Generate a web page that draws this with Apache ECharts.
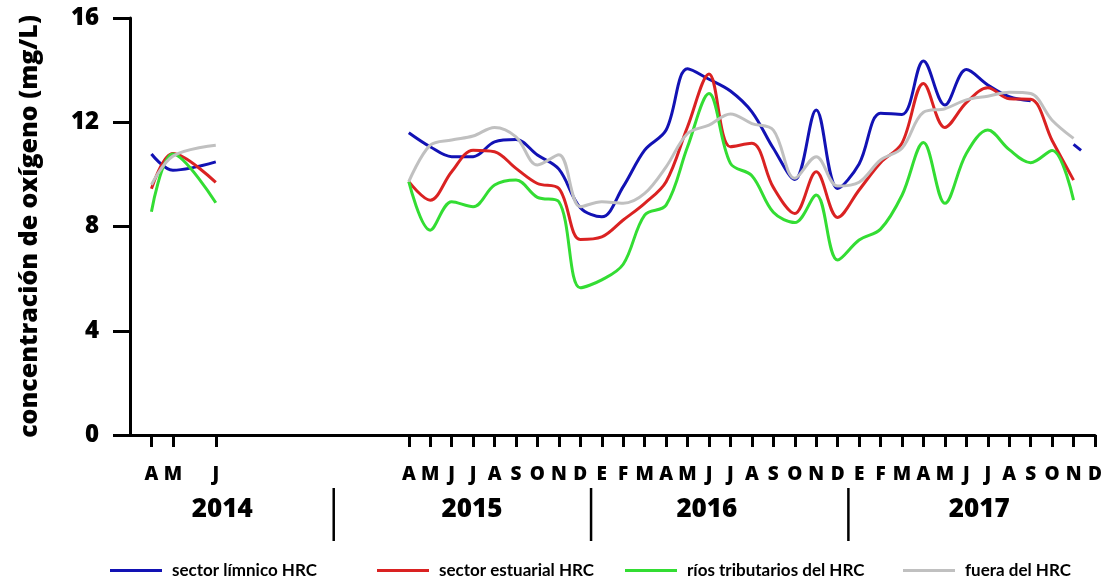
<!DOCTYPE html>
<html>
<head>
<meta charset="utf-8">
<script src="https://cdn.jsdelivr.net/npm/echarts@6/dist/echarts.min.js"></script>
<style>
  html, body { margin: 0; padding: 0; background: #fff; }
  #chart { width: 1108px; height: 585px; }
</style>
</head>
<body>
<div id="chart"></div>
<script>
// Month index: 0 = March 2014 ... 45 = December 2017
const monthLetters = ['', 'A', 'M', '', 'J', '', '', '', '', '', '', '', '',
  'A', 'M', 'J', 'J', 'A', 'S', 'O', 'N', 'D',
  'E', 'F', 'M', 'A', 'M', 'J', 'J', 'A', 'S', 'O', 'N', 'D',
  'E', 'F', 'M', 'A', 'M', 'J', 'J', 'A', 'S', 'O', 'N', 'D'];

const years = ['2014', '2015', '2016', '2017'];
const yearLabelAt = [4.3, 15.95, 26.9, 39.6];   // month-index position of each year label
const yearBreaks = [9.5, 21.5, 33.5];            // Dec/Jan boundaries

const seriesNames = ['sector límnico HRC', 'sector estuarial HRC', 'ríos tributarios del HRC', 'fuera del HRC'];

// 2014 campaign: April, May and July 2014
const months2014 = [1, 2, 4];
const limnico2014 = [10.78, 10.16, 10.48];
const estuarial2014 = [9.45, 10.8, 9.69];
const tributarios2014 = [8.57, 10.78, 8.91];
const fuera2014 = [9.6, 10.7, 11.12];

// Monthly campaign April 2015 (index 13) to December 2017 (index 45), null = no sample
const firstMonth1517 = 13;
const limnico1517 = [11.6, 11.06, 10.68, 10.68, 11.25, 11.34, 10.74, 10.2, 8.72,
  8.37, 9.53, 10.93, 11.7, 14.05, 13.65, 13.2, 12.4, 11.0, 9.8, 12.47, 9.46,
  10.4, 12.35, 12.3, 14.35, 12.66, 14.02, 13.43, 12.98, 12.82, null, 11.15, null];
const limnicoTail = [[44.35, 10.92]];

const estuarial1517 = [9.72, 9.01, 10.1, 10.93, 10.87, 10.23, 9.65, 9.46, 7.5,
  7.6, 8.25, 8.89, 9.72, 11.83, 13.85, 11.06, 11.19, 9.5, 8.5, 10.1, 8.35,
  9.4, 10.45, 11.2, 13.49, 11.8, 12.75, 13.32, 12.9, 12.88, 11.3, 9.78, null];

const tributarios1517 = [9.72, 7.86, 8.95, 8.76, 9.59, 9.78, 9.12, 8.95, 5.65,
  5.95, 6.55, 8.44, 8.82, 11.06, 13.1, 10.42, 9.95, 8.55, 8.15, 9.21, 6.71,
  7.48, 7.9, 9.2, 11.22, 8.89, 10.8, 11.7, 10.95, 10.45, 10.92, 9.01, null];

const fuera1517 = [9.72, 11.12, 11.32, 11.47, 11.8, 11.44, 10.36, 10.75, 8.76,
  8.95, 8.89, 9.27, 10.29, 11.57, 11.89, 12.32, 11.95, 11.7, 9.85, 10.68, 9.55,
  9.7, 10.55, 11.0, 12.38, 12.52, 12.86, 13.0, 13.15, 13.1, 12.08, 11.38, null];

const yTicks = [0, 4, 8, 12, 16];

const colors = ['#1212B4', '#DA2222', '#33DD33', '#C0C0C0'];
const FONT = '"Open Sans"';

const tickIdx = monthLetters.map((l, i) => (l ? i : -1)).filter(i => i >= 0);

// Two campaigns joined with a break between them
function buildSeries(vals2014, vals1517) {
  const a = months2014.map((m, i) => [m, vals2014[i]]);
  const b = vals1517.map((v, i) => [firstMonth1517 + i, v]);
  return a.concat([[8, null]], b);
}

const seriesData = [
  buildSeries(limnico2014, limnico1517.slice(0, -1)).concat(limnicoTail),
  buildSeries(estuarial2014, estuarial1517),
  buildSeries(tributarios2014, tributarios1517),
  buildSeries(fuera2014, fuera1517)
];

const legendLeft = [110, 377, 625, 903];

const chart = echarts.init(document.getElementById('chart'), null, { renderer: 'canvas' });

chart.setOption({
  animation: false,
  backgroundColor: '#ffffff',
  grid: { left: 130, right: 13, top: 18, bottom: 150 },
  xAxis: {
    type: 'value',
    min: 0,
    max: monthLetters.length - 1,
    interval: 1,
    splitLine: { show: false },
    axisLine: { lineStyle: { color: '#000', width: 3 } },
    axisTick: { customValues: tickIdx, length: 12, lineStyle: { color: '#000', width: 3 } },
    axisLabel: {
      customValues: tickIdx,
      formatter: v => monthLetters[v] || '',
      margin: 30,
      color: '#000',
      fontFamily: FONT,
      fontWeight: 800,
      fontSize: 19
    }
  },
  yAxis: {
    type: 'value',
    min: yTicks[0],
    max: yTicks[yTicks.length - 1],
    interval: 4,
    splitLine: { show: false },
    axisLine: { show: true, lineStyle: { color: '#000', width: 3 } },
    axisTick: { show: true, length: 17, lineStyle: { color: '#000', width: 3 } },
    axisLabel: { margin: 31, color: '#000', fontFamily: FONT, fontWeight: 800, fontSize: 24 },
    name: 'concentración de oxígeno (mg/L)',
    nameLocation: 'middle',
    nameGap: 88,
    nameTextStyle: { color: '#000', fontFamily: FONT, fontWeight: 800, fontSize: 25 }
  },
  legend: seriesNames.map((n, i) => ({
    data: [n],
    left: legendLeft[i],
    top: 562,
    icon: 'rect',
    itemWidth: 52,
    itemHeight: 3,
    padding: 0,
    textStyle: { color: '#000', fontFamily: 'Lato', fontWeight: 'bold', fontSize: 17, padding: [0, 0, 0, 5] }
  })),
  series: seriesNames.map((n, i) => ({
    name: n,
    type: 'line',
    data: seriesData[i],
    smooth: 0.35,
    showSymbol: false,
    symbol: 'none',
    connectNulls: false,
    color: colors[i],
    lineStyle: { color: colors[i], width: 3 },
    z: 2 + i
  }))
});

// Year labels and year separators beneath the month letters
const px = v => chart.convertToPixel({ xAxisIndex: 0 }, v);
const graphics = [];
years.forEach((y, i) => {
  graphics.push({
    type: 'text',
    x: px(yearLabelAt[i]),
    y: 510,
    style: {
      text: y, fill: '#000', font: '800 26px ' + FONT,
      textAlign: 'center', textVerticalAlign: 'middle'
    }
  });
});
yearBreaks.forEach(b => {
  const x = px(b);
  graphics.push({
    type: 'line',
    shape: { x1: x, y1: 488, x2: x, y2: 541 },
    style: { stroke: '#000', lineWidth: 2.5 }
  });
});
chart.setOption({ graphic: graphics });
</script>
</body>
</html>
